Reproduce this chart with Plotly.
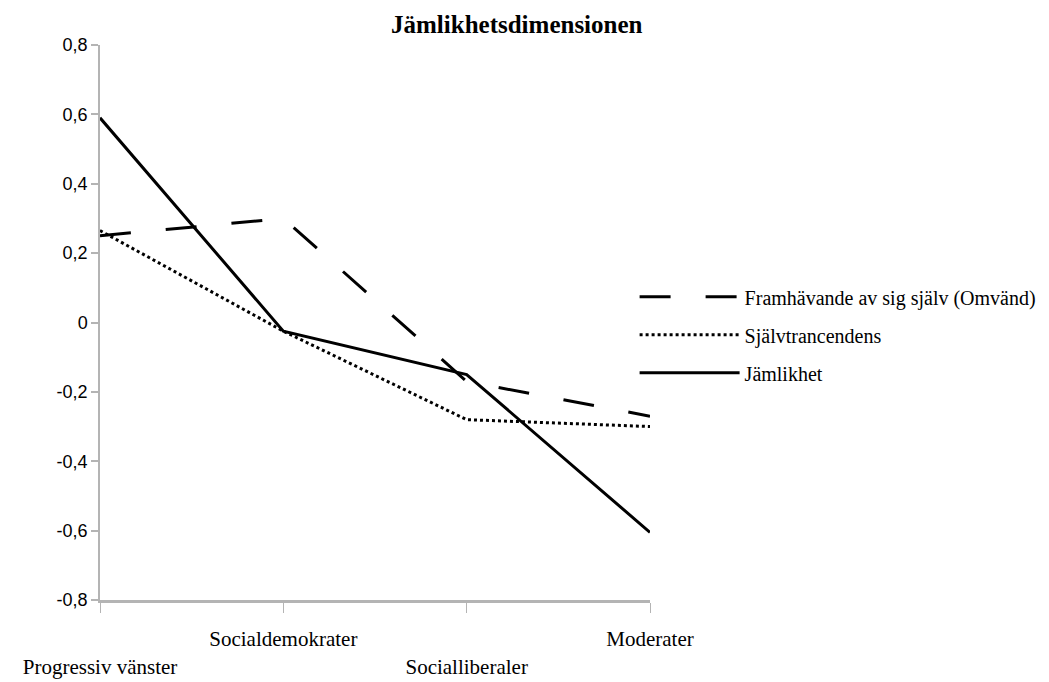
import plotly.graph_objects as go

categories = ["Progressiv vänster", "Socialdemokrater", "Socialliberaler", "Moderater"]
tick_labels = ["<br>Progressiv vänster", "Socialdemokrater", "<br>Socialliberaler", "Moderater"]
framhavande = [0.25, 0.30, -0.17, -0.27]
sjalvtrancendens = [0.265, -0.025, -0.28, -0.30]
jamlikhet = [0.59, -0.025, -0.15, -0.605]
y_ticks = [-0.8, -0.6, -0.4, -0.2, 0, 0.2, 0.4, 0.6, 0.8]
y_tick_labels = ["-0,8", "-0,6", "-0,4", "-0,2", "0", "0,2", "0,4", "0,6", "0,8"]

x_idx = list(range(len(categories)))

fig = go.Figure()
fig.add_trace(go.Scatter(x=x_idx, y=framhavande, mode="lines",
                         name="Framhävande av sig själv (Omvänd)", legendgroup="a",
                         line=dict(color="black", width=3, dash="31px,35px")))
fig.add_trace(go.Scatter(x=x_idx, y=sjalvtrancendens, mode="lines",
                         name="Självtrancendens", legendgroup="b",
                         line=dict(color="black", width=3, dash="3px,3px")))
fig.add_trace(go.Scatter(x=x_idx, y=jamlikhet, mode="lines",
                         name="Jämlikhet", legendgroup="c",
                         line=dict(color="black", width=3)))

fig.update_layout(
    width=1049, height=682,
    margin=dict(l=92, r=407, t=37, b=90, autoexpand=False),
    paper_bgcolor="white", plot_bgcolor="white",
    separators=", ",
    title=dict(text="<b>Jämlikhetsdimensionen</b>", x=0.485, xanchor="center",
               y=0.976, yanchor="middle",
               font=dict(family="Liberation Serif", size=25, color="black")),
    showlegend=True,
    legend=dict(x=0.972, xanchor="left", y=0.478, yanchor="middle",
                font=dict(family="Liberation Serif", size=20, color="black"),
                itemwidth=100, tracegroupgap=9, bgcolor="rgba(0,0,0,0)"),
    xaxis=dict(range=[0, 3], tickmode="array", tickvals=x_idx, ticktext=tick_labels,
               showgrid=False, zeroline=False, showline=True, linecolor="#b4b4b4",
               linewidth=3, ticks="outside", ticklen=10, tickcolor="#b4b4b4", tickwidth=1,
               ticklabelstandoff=8, automargin=False,
               tickfont=dict(family="Liberation Serif", size=21, color="black")),
    yaxis=dict(range=[-0.8, 0.8], tickmode="array", tickvals=y_ticks,
               ticktext=y_tick_labels, showgrid=False, zeroline=False, showline=True,
               linecolor="#b4b4b4", linewidth=1.5, ticks="outside", ticklen=7,
               tickcolor="#b4b4b4", tickwidth=1.5, automargin=False,
               tickfont=dict(family="Liberation Sans", size=18, color="black")),
)

fig.write_html("out.html")
